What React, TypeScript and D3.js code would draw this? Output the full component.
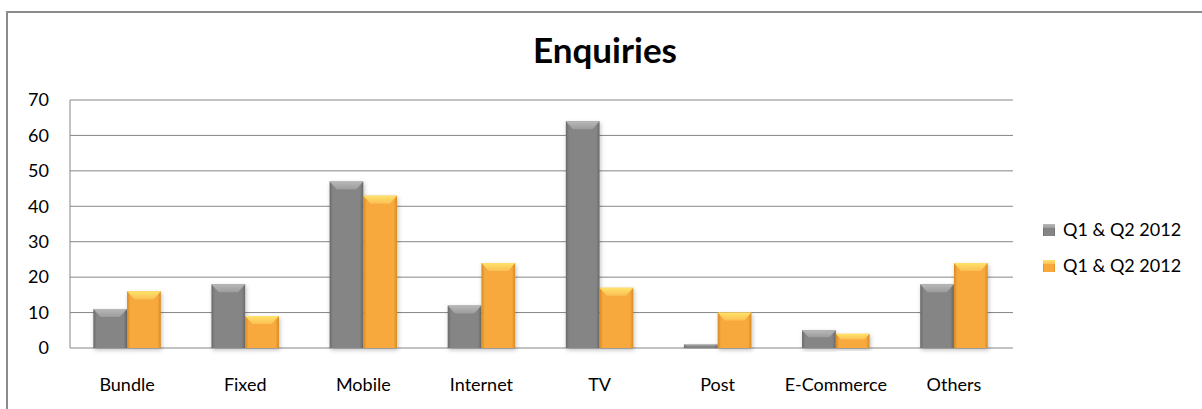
import React from "react";
import * as d3 from "d3";

const categories = ["Bundle", "Fixed", "Mobile", "Internet", "TV", "Post", "E-Commerce", "Others"];
const seriesNames = ["Q1 & Q2 2012", "Q1 & Q2 2012"];
const seriesA = [11, 18, 47, 12, 64, 1, 5, 18];
const seriesB = [16, 9, 43, 24, 17, 10, 4, 24];
const yTicks = [0, 10, 20, 30, 40, 50, 60, 70];
const title = "Enquiries";

const W = 1202;
const H = 409;
const plot = { left: 70, right: 1013, top: 100, bottom: 348 };
const FONT = "Lato, 'Open Sans', sans-serif";

const palettes = [
  { edge: "#6a6a6a", base: "#858585", light: "#9c9c9c", top: "#b8b8b8" },
  { edge: "#d68a22", base: "#f8a93c", light: "#fbbf55", top: "#ffe36a" },
];

export default function App() {
  const x0 = d3
    .scaleBand<string>()
    .domain(categories)
    .range([plot.left - 2, plot.right])
    .paddingInner(1.5 / 3.5)
    .paddingOuter(0.75 / 3.5);
  const x1 = d3.scaleBand<number>().domain([0, 1]).range([0, x0.bandwidth()]).padding(0);
  const y = d3.scaleLinear().domain([0, 70]).range([plot.bottom, plot.top]);
  const series = [seriesA, seriesB];

  return (
    <svg
      width={W}
      height={H}
      style={{ position: "absolute", left: 0, top: 0, background: "#fff" }}
      fontFamily={FONT}
    >
      <defs>
        {palettes.map((p, i) => (
          <g key={i}>
            <linearGradient id={`side${i}`} x1="0" x2="1" y1="0" y2="0">
              <stop offset="0" stopColor={p.edge} />
              <stop offset="0.1" stopColor={p.base} />
              <stop offset="0.9" stopColor={p.base} />
              <stop offset="1" stopColor={p.edge} />
            </linearGradient>
            <linearGradient id={`top${i}`} x1="0" x2="0" y1="0" y2="1">
              <stop offset="0" stopColor={p.top} />
              <stop offset="1" stopColor={p.light} />
            </linearGradient>
          </g>
        ))}
        <filter id="shadow" x="-20%" y="-20%" width="140%" height="140%">
          <feDropShadow dx="1" dy="2" stdDeviation="2" floodColor="#000" floodOpacity="0.25" />
        </filter>
      </defs>

      {/* chart border */}
      <path d={`M7,${H + 5} V12 H${W + 5}`} fill="none" stroke="#8c8c8c" strokeWidth={2} />

      <text x={605} y={63} textAnchor="middle" fontSize={35} fontWeight="bold" fill="#000">
        {title}
      </text>

      {/* gridlines */}
      {yTicks.map((t) => (
        <line key={t} x1={plot.left} x2={plot.right} y1={y(t)} y2={y(t)} stroke="#868686" strokeWidth={1} />
      ))}
      <line x1={plot.left} x2={plot.left} y1={plot.top} y2={plot.bottom} stroke="#868686" strokeWidth={1} />
      {yTicks.map((t) => (
        <text key={t} x={49} y={y(t)} dy="0.35em" textAnchor="end" fontSize={18} fill="#000">
          {t}
        </text>
      ))}

      {/* bars */}
      {categories.map((c, ci) => (
        <g key={c}>
          {series.map((s, si) => {
            const bx = (x0(c) as number) + (x1(si) as number);
            const bw = x1.bandwidth();
            const by = y(s[ci]);
            const bh = plot.bottom - by;
            const bev = Math.min(8, bh * 0.4);
            return (
              <g key={si} filter="url(#shadow)">
                <rect x={bx} y={by} width={bw} height={bh} fill={`url(#side${si})`} />
                <polygon
                  points={`${bx},${by} ${bx + bw},${by} ${bx + bw - bev * 0.9},${by + bev} ${bx + bev * 0.9},${by + bev}`}
                  fill={`url(#top${si})`}
                />
              </g>
            );
          })}
          <text
            x={(x0(c) as number) + x0.bandwidth() / 2}
            y={391}
            textAnchor="middle"
            fontSize={18}
            fill="#000"
          >
            {c}
          </text>
        </g>
      ))}

      {/* legend */}
      {seriesNames.map((n, i) => (
        <g key={i} transform={`translate(1043, ${230 + i * 36})`}>
          <rect x={0} y={-6} width={12} height={12} fill={`url(#side${i})`} />
          <rect x={0} y={-6} width={12} height={4} fill={`url(#top${i})`} />
          <text x={20} y={0} dy="0.35em" fontSize={18} fill="#000">
            {n}
          </text>
        </g>
      ))}
    </svg>
  );
}
